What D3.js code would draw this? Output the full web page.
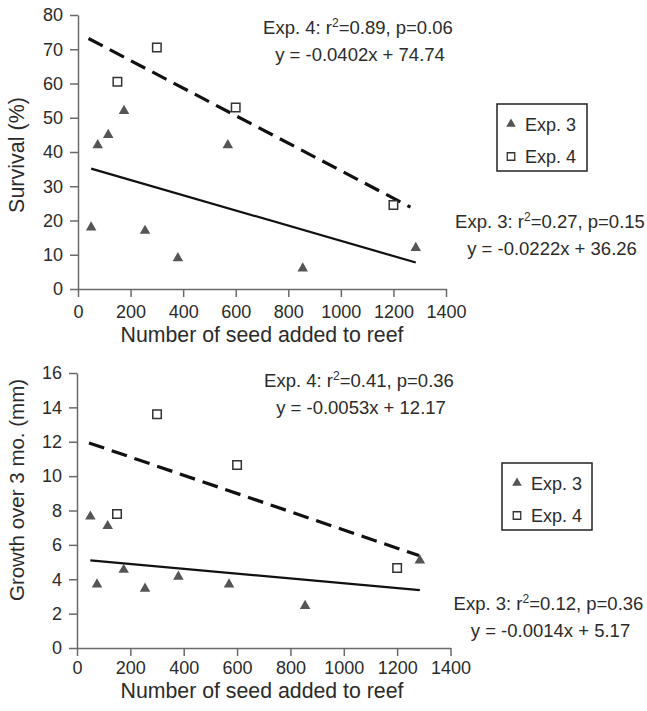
<!DOCTYPE html>
<html>
<head>
<meta charset="utf-8">
<script src="https://cdn.jsdelivr.net/npm/d3@7"></script>
<style>
	body { margin: 0; background: #fff; }
	svg { display: block; }
</style>
</head>
<body>
<script>
// seed added to reef (same reefs in both panels)
const exp3Seed = [50, 75, 115, 175, 255, 380, 570, 855, 1285];
const exp4Seed = [150, 300, 600, 1200];

// survival (%)
const exp3Survival = [18, 42, 45, 52, 17, 9, 42, 6, 12];
const exp4Survival = [60.5, 70.5, 53, 24.5];

// growth over 3 mo. (mm)
const exp3Growth = [7.65, 3.7, 7.1, 4.55, 3.45, 4.15, 3.7, 2.45, 5.1];
const exp4Growth = [7.8, 13.6, 10.65, 4.65];

// regression fits: [slope, intercept], x extent of drawn line
const survivalFit3 = [-0.0222, 36.26], survivalFit3Range = [50, 1285];
const survivalFit4 = [-0.0402, 74.74], survivalFit4Range = [40, 1265];
const growthFit3 = [-0.0014, 5.17], growthFit3Range = [50, 1285];
const growthFit4 = [-0.0053, 12.17], growthFit4Range = [45, 1282];

const xTicks = [0, 200, 400, 600, 800, 1000, 1200, 1400];
const survivalTicks = [0, 10, 20, 30, 40, 50, 60, 70, 80];
const growthTicks = [0, 2, 4, 6, 8, 10, 12, 14, 16];

const legendLabels = ["Exp. 3", "Exp. 4"];

const textColor = "#2b2b2b";
const axisColor = "#6a6a6a";
const triFill = "#555";
const fontFamily = "'Liberation Sans', Arial, sans-serif";

const svg = d3.select("body").append("svg")
	.attr("width", 647)
	.attr("height", 711)
	.style("font-family", fontFamily);

function drawPanel(p) {
	const x = d3.scaleLinear().domain([0, 1400]).range(p.xRange);
	const y = d3.scaleLinear().domain(p.yDomain).range(p.yRange);
	const g = svg.append("g");

	// axes
	const yAxis = g.append("g")
		.attr("transform", `translate(${p.xRange[0]},0)`)
		.call(d3.axisLeft(y).tickValues(p.yTicks).tickFormat(d3.format("d"))
			.tickSize(8).tickPadding(7).tickSizeOuter(0));
	const xAxis = g.append("g")
		.attr("transform", `translate(0,${p.yRange[0]})`)
		.call(d3.axisBottom(x).tickValues(xTicks).tickFormat(d3.format("d"))
			.tickSize(8).tickPadding(p.xPad).tickSizeOuter(0));
	[xAxis, yAxis].forEach(a => {
		a.select(".domain").attr("stroke", axisColor).attr("stroke-width", 1.5);
		a.selectAll(".tick line").attr("stroke", axisColor).attr("stroke-width", 1.5);
		a.selectAll(".tick text").attr("fill", textColor).attr("font-size", 18).attr("font-family", fontFamily);
	});

	// axis titles
	g.append("text")
		.attr("x", p.xTitle[0]).attr("y", p.xTitle[1])
		.attr("text-anchor", "middle")
		.attr("font-size", 21.3)
		.attr("fill", textColor)
		.text("Number of seed added to reef");
	g.append("text")
		.attr("transform", `translate(${p.yTitle[0]},${p.yTitle[1]}) rotate(-90)`)
		.attr("text-anchor", "middle")
		.attr("font-size", p.yTitleSize)
		.attr("fill", textColor)
		.text(p.yTitleText);

	// regression lines
	const fitLine = (fit, range, dashed) => {
		const pts = range.map(v => [x(v), y(fit[0] * v + fit[1])]);
		g.append("path")
			.attr("d", d3.line()(pts))
			.attr("fill", "none")
			.attr("stroke", "#111")
			.attr("stroke-width", dashed ? 3.2 : 2.2)
			.attr("stroke-dasharray", dashed ? "16,8" : null);
	};
	fitLine(p.fit3, p.fit3Range, false);
	fitLine(p.fit4, p.fit4Range, true);

	// points
	const tri = d3.symbol().type(d3.symbolTriangle).size(48);
	const sq = d3.symbol().type(d3.symbolSquare).size(72);
	g.append("g").selectAll("path")
		.data(exp3Seed.map((s, i) => [s, p.y3[i]]))
		.join("path")
		.attr("d", tri)
		.attr("transform", d => `translate(${x(d[0])},${y(d[1])})`)
		.attr("fill", triFill);
	g.append("g").selectAll("path")
		.data(exp4Seed.map((s, i) => [s, p.y4[i]]))
		.join("path")
		.attr("d", sq)
		.attr("transform", d => `translate(${x(d[0])},${y(d[1])})`)
		.attr("fill", "#fff")
		.attr("stroke", "#333")
		.attr("stroke-width", 1.5);

	// annotations
	const annot = (cx, by, exp, r2, pv, eq) => {
		const t = g.append("text")
			.attr("x", cx).attr("y", by)
			.attr("text-anchor", "middle")
			.attr("font-size", 18.5)
			.attr("fill", textColor);
		t.append("tspan").text(`Exp. ${exp}: r`);
		t.append("tspan").attr("dy", -7).attr("font-size", 12).text("2");
		t.append("tspan").attr("dy", 7).text(`=${r2}, p=${pv}`);
		g.append("text")
			.attr("x", cx + 2).attr("y", by + 26.5)
			.attr("text-anchor", "middle")
			.attr("font-size", 18.5)
			.attr("fill", textColor)
			.text(eq);
	};
	annot(p.a4[0], p.a4[1], 4, p.r4[0], p.r4[1], `y = ${p.fit4[0].toFixed(4)}x + ${p.fit4[1].toFixed(2)}`);
	annot(p.a3[0], p.a3[1], 3, p.r3[0], p.r3[1], `y = ${p.fit3[0].toFixed(4)}x + ${p.fit3[1].toFixed(2)}`);

	// legend
	const lg = g.append("g").attr("transform", `translate(${p.legend[0]},${p.legend[1]})`);
	lg.append("rect")
		.attr("width", 90).attr("height", 67)
		.attr("fill", "#fff")
		.attr("stroke", "#222")
		.attr("stroke-width", 1.5);
	legendLabels.forEach((lab, i) => {
		const cy = 20 + i * 32.5;
		lg.append("path")
			.attr("d", i === 0 ? d3.symbol().type(d3.symbolTriangle).size(40)() : d3.symbol().type(d3.symbolSquare).size(56)())
			.attr("transform", `translate(${p.legendMarkerX},${cy})`)
			.attr("fill", i === 0 ? triFill : "#fff")
			.attr("stroke", i === 0 ? null : "#333")
			.attr("stroke-width", 1.3);
		lg.append("text")
			.attr("x", p.legendMarkerX + 14).attr("y", cy + 6.5)
			.attr("font-size", 18)
			.attr("fill", textColor)
			.text(lab);
	});
}

drawPanel({
	xRange: [78, 446], yRange: [289, 15], yDomain: [0, 80], yTicks: survivalTicks,
	y3: exp3Survival, y4: exp4Survival,
	fit3: survivalFit3, fit3Range: survivalFit3Range,
	fit4: survivalFit4, fit4Range: survivalFit4Range,
	r3: ["0.27", "0.15"], r4: ["0.89", "0.06"],
	a4: [358, 34], a3: [550, 228], xPad: 8,
	xTitle: [262, 342], yTitle: [24, 155], yTitleSize: 21.5, yTitleText: "Survival (%)",
	legend: [497, 104], legendMarkerX: 14
});

drawPanel({
	xRange: [77, 450.5], yRange: [648, 373], yDomain: [0, 16], yTicks: growthTicks,
	y3: exp3Growth, y4: exp4Growth,
	fit3: growthFit3, fit3Range: growthFit3Range,
	fit4: growthFit4, fit4Range: growthFit4Range,
	r3: ["0.12", "0.36"], r4: ["0.41", "0.36"],
	a4: [359, 387], a3: [548.5, 610], xPad: 5,
	xTitle: [262, 698], yTitle: [24, 490], yTitleSize: 20.5, yTitleText: "Growth over 3 mo. (mm)",
	legend: [502, 463], legendMarkerX: 15
});
</script>
</body>
</html>
